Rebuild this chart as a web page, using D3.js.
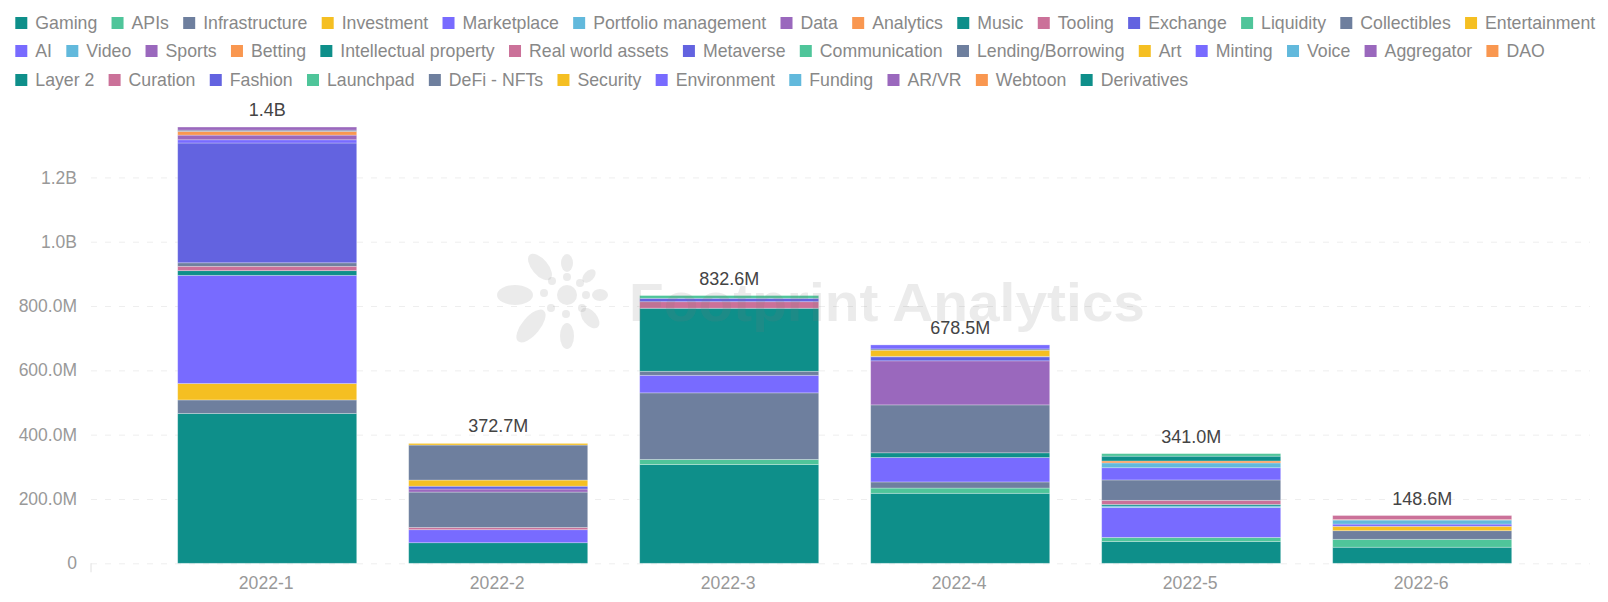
<!DOCTYPE html>
<html><head><meta charset="utf-8">
<script src="https://cdn.jsdelivr.net/npm/d3@7"></script>
<style>html,body{margin:0;padding:0;background:#fff}svg{display:block}text{font-family:"Liberation Sans",Arial,sans-serif}</style>
</head><body><svg id="c" width="1608" height="602"></svg>
<script>
const months=["2022-1","2022-2","2022-3","2022-4","2022-5","2022-6"];
const totalLabels=["1.4B","372.7M","832.6M","678.5M","341.0M","148.6M"];
const yTicks=[0,200,400,600,800,1000,1200];
const yTickLabels=["0","200.0M","400.0M","600.0M","800.0M","1.0B","1.2B"];
const seriesNames=["Gaming","APIs","Infrastructure","Investment","Marketplace","Portfolio management","Data","Analytics","Music","Tooling","Exchange","Liquidity","Collectibles","Entertainment","AI","Video","Sports","Betting","Intellectual property","Real world assets","Metaverse","Communication","Lending/Borrowing","Art","Minting","Voice","Aggregator","DAO","Layer 2","Curation","Fashion","Launchpad","DeFi - NFTs","Security","Environment","Funding","AR/VR","Webtoon","Derivatives"];
// values in millions, one row per series, one column per month
const seriesValues=[
[466,64,307,217.7,68,50],
[0,0,16,16.3,12.5,24.6],
[42,0,207,19,0,26.8],
[51,0,0,0,0,13.6],
[336.5,40.5,54.6,76,92.7,7],
[0,0,0,0,5,12.5],
[0,0,0,0,0,0],
[0,0,0,0,0,1.5],
[14.5,0,0,14.6,5,0],
[13.5,7,0,0,12.6,12.6],
[0,0,0,0,0,0],
[0,0,0,0,0,0],
[11,110,12.5,149,63.4,0],
[0,0,0,0,0,0],
[0,0,0,0,0,0],
[0,0,0,0,0,0],
[0,9.5,0,137,0,0],
[0,0,0,0,0,0],
[0,0,196,0,0,0],
[0,0,20.4,0,0,0],
[372.5,8.8,10.6,12.5,0,0],
[0,0,8.5,0,0,0],
[0,0,0,1.5,0,0],
[0,19,0,19,0,0],
[10,0,0,0,38,0],
[0,0,0,0,15,0],
[14.5,0,0,0,0,0],
[11.5,0,0,0,6,0],
[0,0,0,0,15,0],
[0,0,0,0,0,0],
[0,0,0,0,0,0],
[0,0,0,0,7.8,0],
[4,108.9,0,4,0,0],
[0,5,0,0,0,0],
[0,0,0,12.5,0,0],
[0,0,0,0,0,0],
[9.6,0,0,0,0,0],
[0,0,0,0,0,0],
[0,0,0,0,0,0]
];
const palette=["#4fc59a","#6e7f9e","#f5bf22","#786bff","#62b9dc","#9a68bd","#f99750","#0e8f8a","#cb7199","#6363e0"];
const colorOf=i=>i===0?"#0e8f8a":palette[(i-1)%10];

const svg=d3.select("#c");
const y=d3.scaleLinear().domain([0,1200]).range([563.3,177.4]);
const x=d3.scaleBand().domain(months).range([151.7,1537.7]).paddingInner(0.225).paddingOuter(0.1125);
const gridL=91,gridR=1590;

// y axis + grid
const ga=svg.append("g").attr("transform",`translate(${gridL},0)`)
 .call(d3.axisLeft(y).tickValues(yTicks).tickSize(-(gridR-gridL)).tickPadding(14).tickFormat((d,i)=>yTickLabels[i]));
ga.select(".domain").remove();
ga.selectAll("line").attr("stroke","#eeeeee").attr("stroke-dasharray","6 8");
ga.selectAll("text").attr("fill","#999").style("font-size","17.5px");

// x axis
const gx=svg.append("g").attr("transform",`translate(0,${y(0)})`)
 .call(d3.axisBottom(x).tickSize(0).tickPadding(13));
gx.select(".domain").remove();
gx.selectAll("text").attr("fill","#999").style("font-size","17.6px").attr("dx","-1");
svg.append("line").attr("x1",gridL).attr("x2",gridL).attr("y1",y(0)).attr("y2",y(0)+9).attr("stroke","#e0e0e0");

// stacked bars
const table=months.map((m,j)=>{const o={month:m};seriesNames.forEach((s,i)=>o[s]=seriesValues[i][j]);return o;});
const stacked=d3.stack().keys(seriesNames)(table);
svg.append("g").selectAll("g").data(stacked).join("g")
 .attr("fill",(d,i)=>colorOf(i))
 .selectAll("rect").data(d=>d.filter(p=>p[1]>p[0])).join("rect")
 .attr("x",p=>x(p.data.month)).attr("width",x.bandwidth())
 .attr("y",p=>y(p[1])).attr("height",p=>y(p[0])-y(p[1]))
 .attr("stroke","#fff").attr("stroke-width",0.8).attr("stroke-opacity",0.35);

// totals
svg.append("g").selectAll("text").data(months).join("text")
 .attr("x",m=>x(m)+x.bandwidth()/2)
 .attr("y",(m,j)=>y(d3.sum(seriesValues,r=>r[j]))-11)
 .attr("text-anchor","middle").attr("fill","#444").style("font-size","18px")
 .text((m,j)=>totalLabels[j]);

// legend
const legend=svg.append("g");
let lx=15.3,row=0;const rowY=[23,51,80];
seriesNames.forEach((s,i)=>{
  const t=legend.append("text").attr("dominant-baseline","central").attr("fill","#888").style("font-size","17.7px").text(s);
  const w=t.node().getComputedTextLength();
  if(lx+20+w>1602){row++;lx=15.3;}
  legend.append("rect").attr("x",lx).attr("y",rowY[row]-6).attr("width",12).attr("height",12).attr("fill",colorOf(i));
  t.attr("x",lx+20).attr("y",rowY[row]);
  lx+=20+w+14.3;
});

// watermark
const wm=svg.append("g").attr("fill","#777").attr("fill-opacity",0.15);
[[567,263,6,9,0],[589,276,5,8,45],[600,295,8,6,0],[590,318,7,12,-40],[567,336,7,13,0],[531,326,9,20,40],[515,295,18,10,0],[540,267,8,16,-40]]
 .forEach(([cx,cy,rx,ry,a])=>wm.append("ellipse").attr("cx",cx).attr("cy",cy).attr("rx",rx).attr("ry",ry).attr("transform",`rotate(${a} ${cx} ${cy})`));
wm.append("circle").attr("cx",567).attr("cy",295).attr("r",10);
[[567,277],[552,281],[580,283],[544,293],[586,295],[551,308],[566,314],[582,308]]
 .forEach(([cx,cy])=>wm.append("circle").attr("cx",cx).attr("cy",cy).attr("r",4));
wm.append("text").attr("x",629).attr("y",321).attr("textLength",516).attr("lengthAdjust","spacingAndGlyphs")
 .style("font-size","54px").style("font-weight","bold").text("Footprint Analytics");
</script></body></html>
